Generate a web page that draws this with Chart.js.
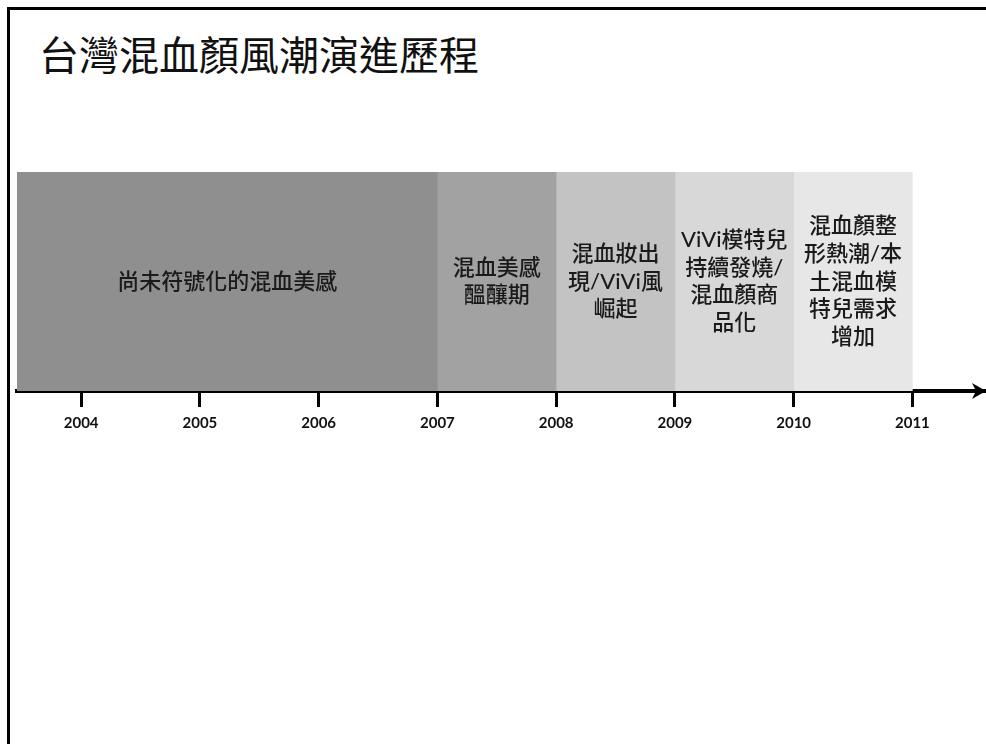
<!DOCTYPE html>
<html>
<head>
<meta charset="utf-8">
<script src="https://cdn.jsdelivr.net/npm/chart.js@4"></script>
<style>
  html, body { margin: 0; padding: 0; background: #fff; overflow: hidden; }
  #frame {
    position: absolute; left: 7px; top: 7px; width: 1000px; height: 800px;
    border-top: 3px solid #000; border-left: 3px solid #000;
  }
  #title {
    position: absolute; left: 39px; top: 33px; margin: 0;
    font: 400 40px/40px "Noto Sans CJK TC", "Noto Sans", sans-serif;
    color: #111; white-space: nowrap;
  }
  #chart { position: absolute; left: 0; top: 0; }
</style>
</head>
<body>
<div id="frame"></div>
<div id="title">台灣混血顏風潮演進歷程</div>
<canvas id="chart" width="986" height="744"></canvas>
<script>
// periods on the timeline (years)
const periodStart = [2003.46, 2007, 2008, 2009, 2010];
const periodEnd = [2007, 2008, 2009, 2010, 2011];
const periodLines = [
  ['尚未符號化的混血美感'],
  ['混血美感', '醞釀期'],
  ['混血妝出', '現/ViVi風', '崛起'],
  ['ViVi模特兒', '持續發燒/', '混血顏商', '品化'],
  ['混血顏整', '形熱潮/本', '土混血模', '特兒需求', '增加'],
];
const periodColors = ['#8f8f8f', '#a2a2a2', '#c3c3c3', '#d8d8d8', '#e7e7e7'];
const years = [2004, 2005, 2006, 2007, 2008, 2009, 2010, 2011];
const axisMin = 2003.46;
const axisMax = 2011.62;

const periodText = {
  id: 'periodText',
  afterDatasetsDraw(chart) {
    const ctx = chart.ctx;
    ctx.save();
    ctx.fillStyle = '#1a1a1a';
    ctx.font = '500 22px Lato, "Noto Sans CJK TC", sans-serif';
    ctx.textAlign = 'center';
    ctx.textBaseline = 'middle';
    const lh = 27.7;
    chart.data.datasets.forEach((ds, i) => {
      const bar = chart.getDatasetMeta(i).data[0];
      const cx = (bar.x + bar.base) / 2;
      const lines = periodLines[i];
      const y0 = bar.y - (lines.length - 1) * lh / 2;
      lines.forEach((t, k) => ctx.fillText(t, cx, y0 + k * lh));
    });
    ctx.restore();
  },
  afterDraw(chart) {
    // arrow head at the right end of the time axis
    const ctx = chart.ctx;
    const x = chart.chartArea.right;
    const y = chart.chartArea.bottom;
    ctx.save();
    ctx.fillStyle = '#000';
    ctx.beginPath();
    ctx.moveTo(x, y);
    ctx.lineTo(x - 14, y - 8);
    ctx.lineTo(x - 10, y);
    ctx.lineTo(x - 14, y + 8);
    ctx.closePath();
    ctx.fill();
    ctx.restore();
  },
};

new Chart(document.getElementById('chart'), {
  type: 'bar',
  data: {
    labels: ['timeline'],
    datasets: periodLines.map((lines, i) => ({
      label: lines.join(''),
      data: [[periodStart[i], periodEnd[i]]],
      backgroundColor: periodColors[i],
      borderWidth: 0,
      grouped: false,
      barPercentage: 1,
      categoryPercentage: 1,
    })),
  },
  options: {
    responsive: false,
    animation: false,
    indexAxis: 'y',
    layout: { padding: { top: 172, left: 17, right: 0, bottom: 0 } },
    plugins: {
      legend: { display: false },
      tooltip: { enabled: false },
    },
    scales: {
      y: { display: false },
      x: {
        type: 'linear',
        min: axisMin,
        max: axisMax,
        afterBuildTicks: (s) => { s.ticks = years.map((v) => ({ value: v })); },
        afterFit: (s) => { s.height = 744 - 391; },
        grid: {
          drawOnChartArea: false,
          color: '#000',
          tickColor: '#000',
          tickWidth: 3,
          tickLength: 16,
        },
        border: { display: true, color: '#000', width: 4 },
        ticks: {
          autoSkip: false,
          maxRotation: 0,
          padding: 7,
          color: '#111',
          font: { family: 'Lato, sans-serif', size: 15, weight: 'bold' },
          callback: (v) => String(v),
        },
      },
    },
  },
  plugins: [periodText],
});
</script>
</body>
</html>
